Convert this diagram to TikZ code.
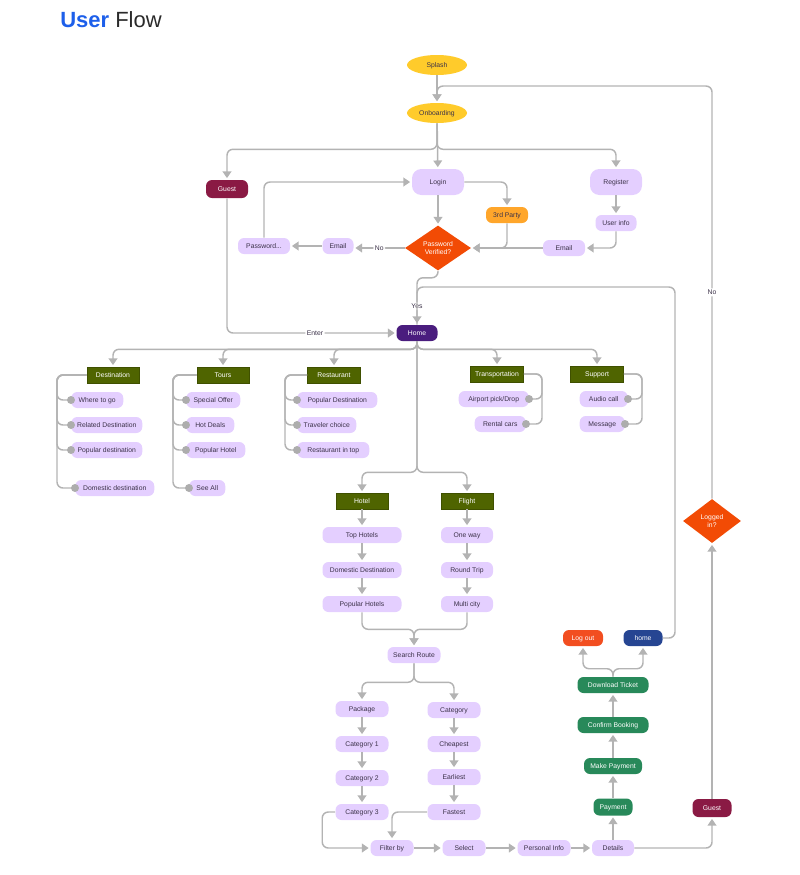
\documentclass[tikz,border=0pt]{standalone}
\usepackage{fontspec}
\setmainfont{Liberation Sans}
\usetikzlibrary{arrows.meta,shapes.geometric}

\definecolor{wire}{HTML}{B3B3B3}
\definecolor{knobgray}{HTML}{ADADAD}
\definecolor{lav}{HTML}{E4CFFF}
\definecolor{ink}{HTML}{3B3148}
\definecolor{sun}{HTML}{FFCB2B}
\definecolor{maroon}{HTML}{8A1A44}
\definecolor{amber}{HTML}{FFA62B}
\definecolor{alert}{HTML}{F24B05}
\definecolor{plum}{HTML}{4A1D7E}
\definecolor{olive}{HTML}{4F6400}
\definecolor{olivedk}{HTML}{3F5000}
\definecolor{leaf}{HTML}{28895A}
\definecolor{navy}{HTML}{264592}
\definecolor{ember}{HTML}{F24E20}
\definecolor{titleblue}{HTML}{1D5FEA}
\definecolor{titlegray}{HTML}{2A2A2A}

\tikzset{
  flow/.style={draw=wire, line width=1.1pt, rounded corners=4.5pt, -{Triangle[width=6.5pt,length=5pt]}, shorten >=1.2pt},
  link/.style={draw=wire, line width=1.1pt, rounded corners=4.5pt},
  wd/.style={minimum width=#1*0.75pt},
  oneline/.style={text height=3.7pt, text depth=0pt},
  pill/.style={fill=lav, text=ink, rounded corners=4.5pt, minimum height=12pt, inner sep=0pt, oneline},
  bigpill/.style={pill, minimum height=19.5pt, rounded corners=7pt},
  headbox/.style={fill=olive, draw=olivedk, line width=0.4pt, text=white, minimum height=12pt, inner sep=0pt, oneline},
  hub/.style={ellipse, fill=sun, text=ink, minimum width=45pt, minimum height=15pt, inner sep=0pt, oneline},
  tone/.style={fill=#1, text=white, rounded corners=4.5pt, minimum height=12pt, inner sep=0pt, oneline},
  ask/.style={diamond, fill=alert, text=white, inner sep=0pt, align=center},
  lbl/.style={fill=white, text=ink, inner sep=1.2pt, oneline},
  knob/.style={fill=knobgray},
}

\begin{document}
\begin{tikzpicture}[x=0.75pt, y=-0.75pt, font=\fontsize{5.1}{6}\selectfont]
\useasboundingbox (0,0) rectangle (800,875);

% title
\node[anchor=base west, inner sep=0pt] (title) at (60,27) {\fontsize{16.5}{20}\selectfont\textcolor{titleblue}{\bfseries User} \textcolor{titlegray}{Flow}};

% start and sign in
\node[hub] (splash) at (437,65) {Splash};
\node[hub] (onboard) at (437,113) {Onboarding};
\node[tone=maroon, wd=42, minimum height=13.5pt] (guest) at (227,189) {Guest};
\node[bigpill, wd=52] (login) at (438,182) {Login};
\node[bigpill, wd=52] (register) at (616,182) {Register};
\node[tone=amber, text=ink, wd=42] (third) at (507,215) {3rd Party};
\node[pill, wd=41] (userinfo) at (616,223) {User info};
\node[ask, aspect=1.47, minimum width=49.5pt, minimum height=33.75pt] (verify) at (438,248) {Password\\Verified?};
\node[pill, wd=31] (emailno) at (338,246) {Email};
\node[pill, wd=52] (passreset) at (264,246) {Password...};
\node[pill, wd=42] (emailreg) at (564,248) {Email};
\node[tone=plum, wd=41] (home) at (417,333) {Home};

% sections
\node[headbox, wd=52] (dest) at (113,375) {Destination};
\node[headbox, wd=52] (tours) at (223,375) {Tours};
\node[headbox, wd=53] (rest) at (334,375) {Restaurant};
\node[headbox, wd=53] (trans) at (497,374) {Transportation};
\node[headbox, wd=53] (support) at (597,374) {Support};

\node[pill, wd=52, anchor=west] (dest1) at (71,400) {Where to go};
\node[pill, wd=71, anchor=west] (dest2) at (71,425) {Related Destination};
\node[pill, wd=71, anchor=west] (dest3) at (71,450) {Popular destination};
\node[pill, wd=79, anchor=west] (dest4) at (75,488) {Domestic destination};
\node[pill, wd=54, anchor=west] (tour1) at (186,400) {Special Offer};
\node[pill, wd=48, anchor=west] (tour2) at (186,425) {Hot Deals};
\node[pill, wd=59, anchor=west] (tour3) at (186,450) {Popular Hotel};
\node[pill, wd=36, anchor=west] (tour4) at (189,488) {See All};
\node[pill, wd=80, anchor=west] (rest1) at (297,400) {Popular Destination};
\node[pill, wd=59, anchor=west] (rest2) at (297,425) {Traveler choice};
\node[pill, wd=72, anchor=west] (rest3) at (297,450) {Restaurant in top};
\node[pill, wd=70, anchor=east] (trans1) at (529,399) {Airport pick/Drop};
\node[pill, wd=51, anchor=east] (trans2) at (526,424) {Rental cars};
\node[pill, wd=48, anchor=east] (supp1) at (628,399) {Audio call};
\node[pill, wd=45, anchor=east] (supp2) at (625,424) {Message};

% hotel and flight
\node[headbox, wd=52] (hotel) at (362,501) {Hotel};
\node[headbox, wd=52] (flight) at (467,501) {Flight};
\node[pill, wd=79] (tophotel) at (362,535) {Top Hotels};
\node[pill, wd=79] (domdest) at (362,570) {Domestic Destination};
\node[pill, wd=79] (pophotel) at (362,604) {Popular Hotels};
\node[pill, wd=52] (oneway) at (467,535) {One way};
\node[pill, wd=52] (round) at (467,570) {Round Trip};
\node[pill, wd=52] (multi) at (467,604) {Multi city};
\node[pill, wd=53] (search) at (414,655) {Search Route};

\node[pill, wd=53] (package) at (362,709) {Package};
\node[pill, wd=53] (cat1) at (362,744) {Category 1};
\node[pill, wd=53] (cat2) at (362,778) {Category 2};
\node[pill, wd=53] (cat3) at (362,812) {Category 3};
\node[pill, wd=53] (category) at (454,710) {Category};
\node[pill, wd=53] (cheap) at (454,744) {Cheapest};
\node[pill, wd=53] (early) at (454,777) {Earliest};
\node[pill, wd=53] (fast) at (454,812) {Fastest};

\node[pill, wd=43] (filter) at (392,848) {Filter by};
\node[pill, wd=43] (select) at (464,848) {Select};
\node[pill, wd=53] (personal) at (544,848) {Personal Info};
\node[pill, wd=42] (details) at (613,848) {Details};

% booking
\node[tone=leaf, wd=39, minimum height=12.75pt] (payment) at (613,807) {Payment};
\node[tone=leaf, wd=58] (makepay) at (613,766) {Make Payment};
\node[tone=leaf, wd=71] (confirm) at (613,725) {Confirm Booking};
\node[tone=leaf, wd=71] (ticket) at (613,685) {Download Ticket};
\node[tone=ember, wd=40] (logout) at (583,638) {Log out};
\node[tone=navy, wd=39] (homeback) at (643,638) {home};
\node[ask, aspect=1.32, minimum width=43.5pt, minimum height=33pt] (logged) at (712,521) {Logged\\in?};
\node[tone=maroon, wd=39, minimum height=13.5pt] (guestend) at (712,808) {Guest};

% connectors: top
\draw[flow] (splash) -- (onboard);
\draw[flow] (onboard.south) -- ++(0,26) -| (guest.north);
\draw[flow] (onboard) -- (login);
\draw[flow] (onboard.south) -- ++(0,26) -| (register.north);
\draw[flow] (login) -- (verify);
\draw[flow] (login.east) -| (third.north);
\draw[flow] (third.south) |- (verify.east);
\draw[flow] (register) -- (userinfo);
\draw[flow] (userinfo.south) |- (emailreg.east);
\draw[flow] (emailreg) -- (verify.east);
\draw[flow] (verify.west) -- node[lbl] {No} (verify.west -| emailno.east);
\draw[flow] (emailno) -- (passreset);
\draw[flow] (passreset.north) |- (login.west);
\draw[flow] (guest.south) |- node[lbl, pos=0.76] {Enter} (home.west);
\draw[flow] (verify.south) -- ++(0,7) -| node[lbl, pos=0.8] {Yes} (home.north);
\draw[link] (homeback.east) -| (675,287) -| (home.north);
\draw[flow] (logged.north) |- node[lbl, pos=0.25] {No} (437,86) -- (onboard.north);

% connectors: sections
\foreach \sec in {dest,tours,rest,trans,support}
  \draw[flow] (home.south) -- ++(0,8) -| (\sec.north);
\foreach \item in {dest1,dest2,dest3,dest4}
  \draw[link] (dest.west) -- (57,375) |- (\item.west);
\foreach \item in {tour1,tour2,tour3,tour4}
  \draw[link] (tours.west) -- (173,375) |- (\item.west);
\foreach \item in {rest1,rest2,rest3}
  \draw[link] (rest.west) -- (285,375) |- (\item.west);
\foreach \item in {trans1,trans2}
  \draw[link] (trans.east) -- (542,374) |- (\item.east);
\foreach \item in {supp1,supp2}
  \draw[link] (support.east) -- (642,374) |- (\item.east);
\foreach \item in {dest1,dest2,dest3,dest4,tour1,tour2,tour3,tour4,rest1,rest2,rest3}
  \fill[knob] (\item.west) circle (3pt);
\foreach \item in {trans1,trans2,supp1,supp2}
  \fill[knob] (\item.east) circle (3pt);

% connectors: search
\draw[flow] (home.south) -- ++(0,131) -| (hotel.north);
\draw[flow] (home.south) -- ++(0,131) -| (flight.north);
\draw[flow] (hotel) -- (tophotel);
\draw[flow] (tophotel) -- (domdest);
\draw[flow] (domdest) -- (pophotel);
\draw[flow] (flight) -- (oneway);
\draw[flow] (oneway) -- (round);
\draw[flow] (round) -- (multi);
\draw[flow] (pophotel.south) -- ++(0,17) -| (search.north);
\draw[flow] (multi.south) -- ++(0,17) -| (search.north);
\draw[flow] (search.south) -- ++(0,19) -| (package.north);
\draw[flow] (search.south) -- ++(0,19) -| (category.north);
\draw[flow] (package) -- (cat1);
\draw[flow] (cat1) -- (cat2);
\draw[flow] (cat2) -- (cat3);
\draw[flow] (category) -- (cheap);
\draw[flow] (cheap) -- (early);
\draw[flow] (early) -- (fast);
\draw[flow] (cat3.west) -- ++(-13,0) |- (filter.west);
\draw[flow] (fast.west) -| (filter.north);
\draw[flow] (filter) -- (select);
\draw[flow] (select) -- (personal);
\draw[flow] (personal) -- (details);

% connectors: booking
\draw[flow] (details) -- (payment);
\draw[flow] (payment) -- (makepay);
\draw[flow] (makepay) -- (confirm);
\draw[flow] (confirm) -- (ticket);
\draw[flow] (ticket.north) -- ++(0,-8) -| (logout.south);
\draw[flow] (ticket.north) -- ++(0,-8) -| (homeback.south);
\draw[flow] (details.east) -| (guestend.south);
\draw[flow] (guestend) -- (logged);
\end{tikzpicture}
\end{document}
